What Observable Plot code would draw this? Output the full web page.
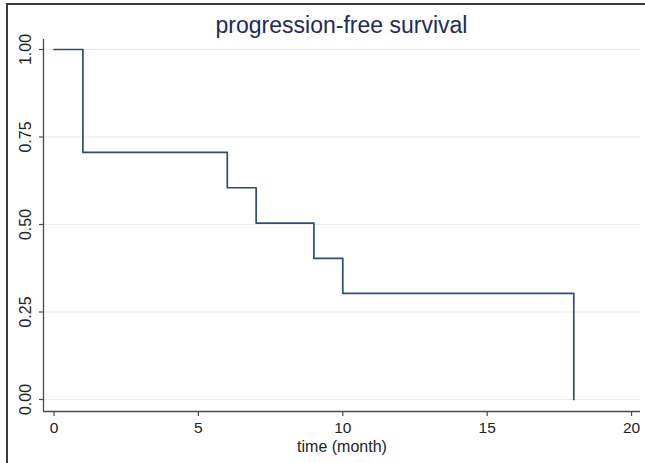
<!DOCTYPE html>
<html>
<head>
<meta charset="utf-8">
<script src="https://cdn.jsdelivr.net/npm/d3@7"></script>
<script src="https://cdn.jsdelivr.net/npm/@observablehq/plot@0.6"></script>
<style>
  html, body { margin: 0; padding: 0; background: #fff; }
  #wrap { position: relative; width: 645px; height: 463px; overflow: hidden; font-family: "Liberation Sans", Arial, sans-serif; }
  #border { position: absolute; left: 6px; top: 3px; width: 700px; height: 500px; border-top: 2px solid #3a3a3a; border-left: 2px solid #3a3a3a; }
  #title { position: absolute; left: 43px; width: 597px; top: 14px; line-height: 23px; font-size: 23px; text-align: center; color: #1c2b57; }
  #chart { position: absolute; left: 0; top: 37px; }
</style>
</head>
<body>
<div id="wrap">
  <div id="border"></div>
  <div id="title">progression-free survival</div>
  <div id="chart"></div>
</div>
<script>
const times = [0, 1, 6, 7, 9, 10, 18];
const survival = [1.0, 0.706, 0.605, 0.504, 0.403, 0.303, 0.0];
const xTicks = [0, 5, 10, 15, 20];
const yTicks = [0, 0.25, 0.5, 0.75, 1];
const xLabel = "time (month)";

const data = times.map((t, i) => ({t, s: survival[i]}));
const xDomain = [-0.364, 20.31];
const yDomain = [-0.0343, 1.0286];
const axisColor = "#4a4a4a";
const textColor = "#222";

const plot = Plot.plot({
  width: 645,
  height: 426,
  marginLeft: 43,
  marginRight: 5,
  marginTop: 2,
  marginBottom: 52,
  style: {fontFamily: "'Liberation Sans', Arial, sans-serif", background: "transparent", overflow: "visible"},
  x: {domain: xDomain, axis: null},
  y: {domain: yDomain, axis: null},
  marks: [
    Plot.gridY(yTicks, {stroke: "#e4ebf2", strokeOpacity: 1, strokeWidth: 1.2}),
    Plot.ruleX([xDomain[0]], {stroke: axisColor, strokeWidth: 1.3}),
    Plot.ruleY([yDomain[0]], {stroke: axisColor, strokeWidth: 1.3}),
    Plot.axisY({ticks: yTicks, tickSize: 4, tickFormat: () => "", label: null, stroke: axisColor, strokeWidth: 1.2}),
    Plot.axisX({ticks: xTicks, tickSize: 5, tickFormat: () => "", label: null, stroke: axisColor, strokeWidth: 1.2}),
    Plot.text(yTicks, {y: d => d, text: d => d.toFixed(2), frameAnchor: "left", dx: -18, rotate: -90, textAnchor: "middle", lineAnchor: "middle", fontSize: 16, fill: textColor}),
    Plot.text(xTicks, {x: d => d, text: d => String(d), frameAnchor: "bottom", dy: 17, lineAnchor: "middle", fontSize: 15.5, fill: textColor}),
    Plot.text([xLabel], {text: d => d, frameAnchor: "bottom", dy: 35.5, lineAnchor: "middle", fontSize: 16, fill: textColor}),
    Plot.line(data, {x: "t", y: "s", curve: "step-after", stroke: "#2e4d78", strokeWidth: 1.7})
  ]
});
document.getElementById("chart").appendChild(plot);
</script>
</body>
</html>
